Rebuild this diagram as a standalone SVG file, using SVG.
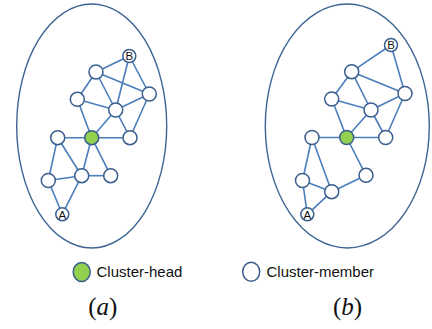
<svg xmlns="http://www.w3.org/2000/svg" width="432" height="329" viewBox="0 0 432 329">
<style>
.bg{fill:#ffffff}
.cl{fill:none;stroke:#3d6594;stroke-width:1.4}
.e line{stroke:#4a7ebb;stroke-width:1.6}
.n{fill:#ffffff;stroke:#3a5f8e;stroke-width:1.5}
.h{fill:#92d050;stroke:#3a5f8e;stroke-width:1.5}
.lb{font-family:"Liberation Sans",Arial,sans-serif;font-size:11.5px;fill:#111;text-anchor:middle}
.lg{font-family:"Liberation Sans",Arial,sans-serif;font-size:15px;fill:#111}
.cap{font-family:"Liberation Serif","Times New Roman",serif;font-size:25px;fill:#111;text-anchor:middle}
</style>
<rect class="bg" x="0" y="0" width="432" height="329"/>
<g id="cluster-a"><ellipse class="cl" cx="91.7" cy="126" rx="75" ry="122"/></g>
<g id="cluster-b"><ellipse class="cl" cx="347.3" cy="126" rx="82" ry="122"/></g>
<g id="connectors" class="e">
<!-- (a) -->
<line x1="129.3" y1="56" x2="96" y2="72"/>
<line x1="129.3" y1="56" x2="115.7" y2="110"/>
<line x1="129.3" y1="56" x2="149.3" y2="94"/>
<line x1="96" y1="72" x2="149.3" y2="94"/>
<line x1="96" y1="72" x2="77.3" y2="99.3"/>
<line x1="96" y1="72" x2="115.7" y2="110"/>
<line x1="77.3" y1="99.3" x2="115.7" y2="110"/>
<line x1="149.3" y1="94" x2="115.7" y2="110"/>
<line x1="149.3" y1="94" x2="130" y2="137.7"/>
<line x1="115.7" y1="110" x2="130" y2="137.7"/>
<line x1="77.3" y1="99.3" x2="91.7" y2="137.7"/>
<line x1="115.7" y1="110" x2="91.7" y2="137.7"/>
<line x1="57.7" y1="137.7" x2="130" y2="137.7"/>
<line x1="57.7" y1="137.7" x2="48.3" y2="180.5"/>
<line x1="57.7" y1="137.7" x2="81.7" y2="175.7"/>
<line x1="91.7" y1="137.7" x2="81.7" y2="175.7"/>
<line x1="91.7" y1="137.7" x2="110.7" y2="175.7"/>
<line x1="48.3" y1="180.5" x2="81.7" y2="175.7"/>
<line x1="81.7" y1="175.7" x2="110.7" y2="175.7"/>
<line x1="48.3" y1="180.5" x2="62.3" y2="214.3"/>
<line x1="81.7" y1="175.7" x2="62.3" y2="214.3"/>
<!-- (b) -->
<line x1="391" y1="45" x2="351.7" y2="71.7"/>
<line x1="391" y1="45" x2="405" y2="93.5"/>
<line x1="351.7" y1="71.7" x2="405" y2="93.5"/>
<line x1="351.7" y1="71.7" x2="331.7" y2="99"/>
<line x1="351.7" y1="71.7" x2="371" y2="110"/>
<line x1="331.7" y1="99" x2="371" y2="110"/>
<line x1="405" y1="93.5" x2="371" y2="110"/>
<line x1="405" y1="93.5" x2="385.7" y2="137.5"/>
<line x1="371" y1="110" x2="385.7" y2="137.5"/>
<line x1="331.7" y1="99" x2="346.7" y2="137.5"/>
<line x1="371" y1="110" x2="346.7" y2="137.5"/>
<line x1="312" y1="137.5" x2="385.7" y2="137.5"/>
<line x1="346.7" y1="137.5" x2="366" y2="175.3"/>
<line x1="312" y1="137.5" x2="302.5" y2="180.5"/>
<line x1="312" y1="137.5" x2="331.7" y2="191.7"/>
<line x1="302.5" y1="180.5" x2="331.7" y2="191.7"/>
<line x1="331.7" y1="191.7" x2="366" y2="175.3"/>
<line x1="302.5" y1="180.5" x2="307.3" y2="214.3"/>
<line x1="307.3" y1="214.3" x2="331.7" y2="191.7"/>
</g>
<!-- nodes (a) -->
<g id="a-B"><circle class="n" cx="129.3" cy="56" r="6.5"/><text class="lb" x="129.3" y="60.2">B</text></g>
<g id="a-n1"><circle class="n" cx="96" cy="72" r="7"/></g>
<g id="a-n2"><circle class="n" cx="149.3" cy="94" r="7"/></g>
<g id="a-n3"><circle class="n" cx="77.3" cy="99.3" r="7"/></g>
<g id="a-n4"><circle class="n" cx="115.7" cy="110" r="7"/></g>
<g id="a-head"><circle class="h" cx="91.7" cy="137.7" r="7"/></g>
<g id="a-n5"><circle class="n" cx="57.7" cy="137.7" r="7"/></g>
<g id="a-n6"><circle class="n" cx="130" cy="137.7" r="7"/></g>
<g id="a-n7"><circle class="n" cx="48.3" cy="180.5" r="7"/></g>
<g id="a-n8"><circle class="n" cx="81.7" cy="175.7" r="7"/></g>
<g id="a-n9"><circle class="n" cx="110.7" cy="175.7" r="7"/></g>
<g id="a-A"><circle class="n" cx="62.3" cy="214.3" r="6.5"/><text class="lb" x="62.3" y="218.5">A</text></g>
<!-- nodes (b) -->
<g id="b-B"><circle class="n" cx="391" cy="45" r="6.5"/><text class="lb" x="391" y="49.2">B</text></g>
<g id="b-n1"><circle class="n" cx="351.7" cy="71.7" r="7"/></g>
<g id="b-n2"><circle class="n" cx="405" cy="93.5" r="7"/></g>
<g id="b-n3"><circle class="n" cx="331.7" cy="99" r="7"/></g>
<g id="b-n4"><circle class="n" cx="371" cy="110" r="7"/></g>
<g id="b-head"><circle class="h" cx="346.7" cy="137.5" r="7"/></g>
<g id="b-n5"><circle class="n" cx="312" cy="137.5" r="7"/></g>
<g id="b-n6"><circle class="n" cx="385.7" cy="137.5" r="7"/></g>
<g id="b-n7"><circle class="n" cx="302.5" cy="180.5" r="7"/></g>
<g id="b-n8"><circle class="n" cx="331.7" cy="191.7" r="7"/></g>
<g id="b-n9"><circle class="n" cx="366" cy="175.3" r="7"/></g>
<g id="b-A"><circle class="n" cx="307.3" cy="214.3" r="6.5"/><text class="lb" x="307.3" y="218.5">A</text></g>
<!-- legend -->
<g id="legend-head"><ellipse class="h" cx="81.7" cy="272" rx="8.5" ry="9.5"/><text class="lg" x="96.5" y="276.5">Cluster-head</text></g>
<g id="legend-member"><ellipse class="n" cx="251.2" cy="271.7" rx="8.5" ry="9.5"/><text class="lg" x="266.5" y="276.5">Cluster-member</text></g>
<g id="caption-a"><text class="cap" x="102.8" y="315">(<tspan font-style="italic">a</tspan>)</text></g>
<g id="caption-b"><text class="cap" x="347.5" y="315">(<tspan font-style="italic">b</tspan>)</text></g>
</svg>
